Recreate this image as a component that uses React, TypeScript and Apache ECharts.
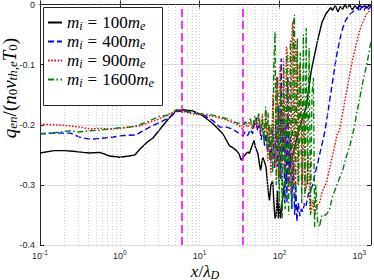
import React, { useEffect, useRef } from "react";
import * as echarts from "echarts";

// ---- data ----
const massRatios = ["100", "400", "900", "1600"];
const seriesColors = ["#000000", "#0000ff", "#ff0000", "#008000"];
const seriesDash: (number[] | "solid")[] = ["solid", [6, 3], [1.6, 1.6], [6, 2.5, 1.5, 2.5]];
const xLimits = [0.1, 1400];
const yLimits = [-0.4, 0];
const yInterval = 0.1;
const markerX = [6, 35];
const decades = [0.1, 1, 10, 100, 1000];

const m100: number[][] = [
  [0.1, -0.247], [0.15, -0.243], [0.2, -0.243], [0.26, -0.244], [0.35, -0.246], [0.42, -0.247],
  [0.56, -0.246], [0.75, -0.252], [1.0, -0.254], [1.3, -0.252], [1.55, -0.25], [1.8, -0.24],
  [2.2, -0.229], [2.6, -0.222], [3.2, -0.207], [4.2, -0.188], [5.1, -0.177], [6.2, -0.175],
  [8.2, -0.177], [10.9, -0.185], [14.6, -0.198], [19.5, -0.215], [23.7, -0.235], [26, -0.238],
  [28.9, -0.243], [31, -0.248], [33.2, -0.259], [36.5, -0.251], [40, -0.245], [42, -0.248],
  [44, -0.24], [48, -0.226], [50, -0.238], [53.7, -0.248], [56, -0.265], [58, -0.276],
  [61.7, -0.254], [65, -0.262], [67.7, -0.27], [70, -0.29], [72, -0.31], [74.9, -0.326],
  [78, -0.3], [82, -0.293], [86, -0.34], [88, -0.356], [91, -0.35], [94, -0.31], [97, -0.356],
  [100, -0.331], [103, -0.356], [108, -0.33], [115, -0.3], [125, -0.28], [140, -0.26],
  [160, -0.23], [178, -0.205], [216, -0.171], [250, -0.11], [300, -0.06], [340, -0.03],
  [383, -0.015], [440, -0.005], [460, -0.01], [500, -0.002], [540, -0.012], [580, -0.003],
  [620, -0.008], [660, 0], [700, -0.006], [760, -0.001], [820, -0.009], [880, -0.002],
  [950, -0.007], [1000, -0.001], [1080, -0.005], [1150, -0.002], [1250, -0.006], [1320, -0.001],
  [1400, -0.003],
];

const m400: number[][] = [
  [0.1, -0.215], [0.14, -0.214], [0.18, -0.214], [0.24, -0.214], [0.32, -0.221], [0.42, -0.224],
  [0.56, -0.223], [0.75, -0.221], [1.1, -0.218], [1.6, -0.217], [1.94, -0.21], [2.37, -0.204],
  [3.16, -0.196], [4.2, -0.188], [5.1, -0.178], [6.2, -0.177], [8.2, -0.18], [10.9, -0.183],
  [14.6, -0.193], [18, -0.204], [21.5, -0.204], [25.8, -0.207], [31.6, -0.215], [34.8, -0.218],
  [37, -0.212], [40, -0.218], [43, -0.208], [46, -0.215], [49, -0.195], [51, -0.188], [53, -0.21],
  [56, -0.2], [59, -0.225], [62, -0.205], [65, -0.235], [68, -0.215], [71, -0.245], [74, -0.22],
  [78, -0.26], [82, -0.21], [86.6, -0.273], [90, -0.2], [94, -0.27], [98, -0.17], [102, -0.29],
  [105, -0.09], [108, -0.262], [112, -0.18], [116, -0.33], [120, -0.2], [124, -0.33],
  [127, -0.12], [131, -0.3], [136, -0.22], [142, -0.34], [148, -0.26], [155, -0.35], [160, -0.3],
  [165, -0.361], [172, -0.33], [180, -0.352], [188, -0.34], [196, -0.345], [205, -0.33],
  [215, -0.335], [230, -0.315], [245, -0.31], [260, -0.3], [280, -0.28], [300, -0.265],
  [330, -0.24], [365, -0.215], [398, -0.185], [430, -0.155], [457, -0.133], [490, -0.105],
  [531, -0.078], [570, -0.058], [618, -0.04], [680, -0.025], [750, -0.017], [866, -0.01],
  [950, -0.004], [1000, -0.012], [1080, -0.003], [1150, -0.01], [1220, -0.002], [1300, -0.008],
  [1400, -0.003],
];

const m900: number[][] = [
  [0.1, -0.199], [0.15, -0.2], [0.2, -0.201], [0.32, -0.204], [0.42, -0.207], [0.56, -0.206],
  [0.75, -0.207], [1.0, -0.206], [1.33, -0.204], [1.78, -0.202], [2.37, -0.196], [3.16, -0.19],
  [4.2, -0.182], [5.1, -0.177], [6.2, -0.178], [8.2, -0.182], [10.9, -0.183], [14.6, -0.186],
  [19.5, -0.19], [25.8, -0.196], [31.6, -0.202], [34.8, -0.207], [37, -0.198], [40, -0.204],
  [43, -0.196], [46, -0.208], [49, -0.192], [52, -0.206], [55, -0.188], [58, -0.215],
  [61, -0.182], [64, -0.225], [68, -0.177], [71, -0.26], [75, -0.2], [78, -0.284], [83, -0.149],
  [87, -0.27], [92, -0.12], [97, -0.29], [102, -0.1], [107, -0.3], [112, -0.09], [117, -0.28],
  [122, -0.07], [127, -0.083], [132, -0.31], [138, -0.312], [143, -0.05], [147, -0.028],
  [152, -0.3], [158, -0.06], [164, -0.083], [170, -0.3], [177, -0.1], [186, -0.144], [194, -0.3],
  [203, -0.18], [212, -0.31], [220, -0.298], [230, -0.25], [240, -0.34], [250, -0.345],
  [262, -0.325], [275, -0.35], [290, -0.335], [316, -0.331], [345, -0.31], [383, -0.298],
  [420, -0.275], [457, -0.254], [531, -0.215], [562, -0.21], [620, -0.18], [682, -0.149],
  [750, -0.12], [817, -0.094], [900, -0.07], [1000, -0.045], [1100, -0.03], [1213, -0.017],
  [1300, -0.012], [1400, -0.01],
];

const m1600: number[][] = [
  [0.1, -0.215], [0.14, -0.214], [0.18, -0.212], [0.24, -0.21], [0.3, -0.212], [0.42, -0.21],
  [0.56, -0.209], [0.75, -0.207], [1.0, -0.205], [1.33, -0.204], [1.78, -0.2], [2.37, -0.193],
  [3.16, -0.186], [4.2, -0.184], [5.1, -0.175], [6.2, -0.176], [8.2, -0.18], [10.9, -0.182],
  [14.6, -0.184], [19.5, -0.188], [25.8, -0.193], [28, -0.196], [31.6, -0.198], [34.8, -0.203],
  [37, -0.195], [40, -0.2], [43, -0.19], [46, -0.205], [49, -0.185], [52, -0.2], [55, -0.18],
  [58, -0.21], [61, -0.19], [64, -0.23], [67, -0.17], [70, -0.24], [72, -0.18], [75, -0.26],
  [79, -0.2], [82, -0.28], [85, -0.1], [88, -0.045], [91, -0.3], [95, -0.12], [99, -0.33],
  [104, -0.14], [108, -0.355], [113, -0.1], [118, -0.34], [124, -0.08], [130, -0.35],
  [137, -0.06], [143, -0.34], [150, -0.03], [154, -0.017], [159, -0.32], [167, -0.056],
  [174, -0.3], [182, -0.08], [190, -0.33], [199, -0.05], [208, -0.32], [216, -0.039],
  [224, -0.3], [235, -0.072], [245, -0.35], [255, -0.15], [266, -0.122], [275, -0.37],
  [285, -0.3], [300, -0.36], [316, -0.37], [340, -0.35], [380, -0.35], [422, -0.342],
  [460, -0.32], [511, -0.304], [560, -0.29], [618, -0.276], [680, -0.255], [750, -0.238],
  [810, -0.22], [866, -0.204], [930, -0.18], [1000, -0.16], [1100, -0.13], [1213, -0.105],
  [1300, -0.085], [1400, -0.061],
];

const seriesData = [m100, m400, m900, m1600];

// ---- styling helpers ----
const serif = "'Liberation Serif', 'DejaVu Serif', serif";
const sans = "'Liberation Sans', Arial, sans-serif";
const tickColor = "#262626";

const gridXs: number[] = [];
decades.forEach((d) => {
  for (let k = 1; k <= 9; k++) {
    const v = d * k;
    if (v > xLimits[0] * 1.0001 && v < xLimits[1]) gridXs.push(v);
  }
});

const mathRich = (size: number, subSize: number, lh: number, subShift: number, eqPad: number) => ({
  i: { fontFamily: serif, fontStyle: "italic", fontSize: size, color: "#000", lineHeight: lh },
  n: { fontFamily: serif, fontSize: size, color: "#000", lineHeight: lh },
  eq: { fontFamily: serif, fontSize: size, color: "#000", lineHeight: lh, padding: [0, eqPad, 0, eqPad] },
  s: {
    fontFamily: serif, fontStyle: "italic", fontSize: subSize, color: "#000", lineHeight: lh,
    padding: [subShift, 0, 0, 0],
  },
  sn: {
    fontFamily: serif, fontSize: subSize, color: "#000", lineHeight: lh,
    padding: [subShift, 0, 0, 0],
  },
});

export default function App() {
  const ref = useRef<HTMLDivElement>(null);

  useEffect(() => {
    if (!ref.current) return;
    const chart = echarts.init(ref.current, null, { renderer: "svg" });

    const names = massRatios.map((r) => `m_i = ${r}m_e`);

    const dataSeries = seriesData.map((d, idx) => ({
      name: names[idx],
      type: "line",
      data: d,
      showSymbol: false,
      symbol: "none",
      z: 3 + idx,
      lineStyle: { color: seriesColors[idx], width: 1.4, type: seriesDash[idx] },
      itemStyle: { color: seriesColors[idx] },
    }));

    const option: any = {
      animation: false,
      grid: { left: 40, right: 2, top: 3, bottom: 35, containLabel: false },
      legend: {
        orient: "vertical",
        left: 43,
        top: 8,
        z: 30,
        itemWidth: 14,
        itemHeight: 2,
        itemGap: 0,
        padding: [5, 8, 5, 4],
        backgroundColor: "transparent",
        selectedMode: false,
        itemStyle: { opacity: 0 },
        data: names,
        formatter: (name: string) => {
          const m = name.match(/= (\d+)/);
          const num = m ? m[1] : "";
          return `{i|m}{s|i}{eq|=}{n|${num}}{i|m}{s|e}`;
        },
        textStyle: { rich: mathRich(17, 12, 20, 7, 5) },
      },
      xAxis: [
        {
          type: "log",
          logBase: 10,
          min: xLimits[0],
          max: xLimits[1],
          position: "bottom",
          axisLine: { show: true, lineStyle: { color: tickColor, width: 1 } },
          axisTick: { show: true, inside: true, length: 4, lineStyle: { color: tickColor } },
          splitLine: { show: false },
          axisLabel: {
            margin: 4,
            formatter: (v: number) => {
              const e = Math.log10(v);
              const r = Math.round(e);
              if (Math.abs(e - r) > 1e-6) return "";
              return `{b|10}{s|${r}}`;
            },
            rich: {
              b: { fontFamily: sans, fontSize: 9, color: tickColor },
              s: { fontFamily: sans, fontSize: 6.5, color: tickColor, padding: [0, 0, 7, 0] },
            },
          },
        },
        {
          type: "log",
          logBase: 10,
          min: xLimits[0],
          max: xLimits[1],
          position: "top",
          axisLine: { show: true, lineStyle: { color: tickColor, width: 1 } },
          axisTick: { show: true, inside: true, length: 4, lineStyle: { color: tickColor } },
          axisLabel: { show: false },
          splitLine: { show: false },
        },
      ],
      yAxis: [
        {
          type: "value",
          min: yLimits[0],
          max: yLimits[1],
          interval: yInterval,
          axisLine: { show: true, lineStyle: { color: tickColor, width: 1 } },
          axisTick: { show: true, inside: true, length: 4, lineStyle: { color: tickColor } },
          axisLabel: { fontFamily: sans, fontSize: 9, color: tickColor, margin: 5 },
          splitLine: { show: true, lineStyle: { color: "#dedede", width: 1 } },
        },
        {
          type: "value",
          min: yLimits[0],
          max: yLimits[1],
          interval: yInterval,
          position: "right",
          axisLine: { show: true, lineStyle: { color: tickColor, width: 1 } },
          axisTick: { show: true, inside: true, length: 4, lineStyle: { color: tickColor } },
          axisLabel: { show: false },
          splitLine: { show: false },
        },
      ],
      series: [
        {
          name: "grid",
          type: "line",
          data: [],
          z: 1,
          silent: true,
          markLine: {
            silent: true,
            symbol: "none",
            label: { show: false },
            lineStyle: { color: "#c4c4c4", width: 0.8, type: [1, 2] },
            data: gridXs.map((v) => ({ xAxis: v })),
          },
        },
        ...dataSeries,
        {
          name: "markers",
          type: "line",
          data: [],
          z: 10,
          silent: true,
          markLine: {
            silent: true,
            symbol: "none",
            label: { show: false },
            lineStyle: { color: "#ff00ff", width: 1.6, type: [8, 4] },
            data: markerX.map((v) => ({ xAxis: v })),
          },
        },
      ],
      graphic: [
        {
          type: "rect",
          z: 25,
          silent: true,
          shape: { x: 43.5, y: 7.5, width: 119, height: 98 },
          style: { fill: "#fff", stroke: "#262626", lineWidth: 1 },
        },
        {
          type: "text",
          x: 9,
          y: 88,
          rotation: Math.PI / 2,
          style: {
            text: "{i|q}{s|en}{n|/(}{i|n}{sn|0}{i|v}{s|th,e}{i|T}{sn|0}{n|)}",
            rich: mathRich(19, 13, 21, 7, 0),
            align: "center",
            verticalAlign: "middle",
            textAlign: "center",
            textVerticalAlign: "middle",
          },
        },
        {
          type: "text",
          x: 205,
          y: 271,
          style: {
            text: "{i|x}{n|/}{i|λ}{s|D}",
            rich: mathRich(17, 12, 19, 7, 0),
            align: "center",
            verticalAlign: "middle",
            textAlign: "center",
            textVerticalAlign: "middle",
          },
        },
      ],
    };

    chart.setOption(option);
    return () => chart.dispose();
  }, []);

  return (
    <div
      ref={ref}
      style={{ position: "fixed", left: 0, top: 0, width: 374, height: 280, background: "#fff" }}
    />
  );
}
